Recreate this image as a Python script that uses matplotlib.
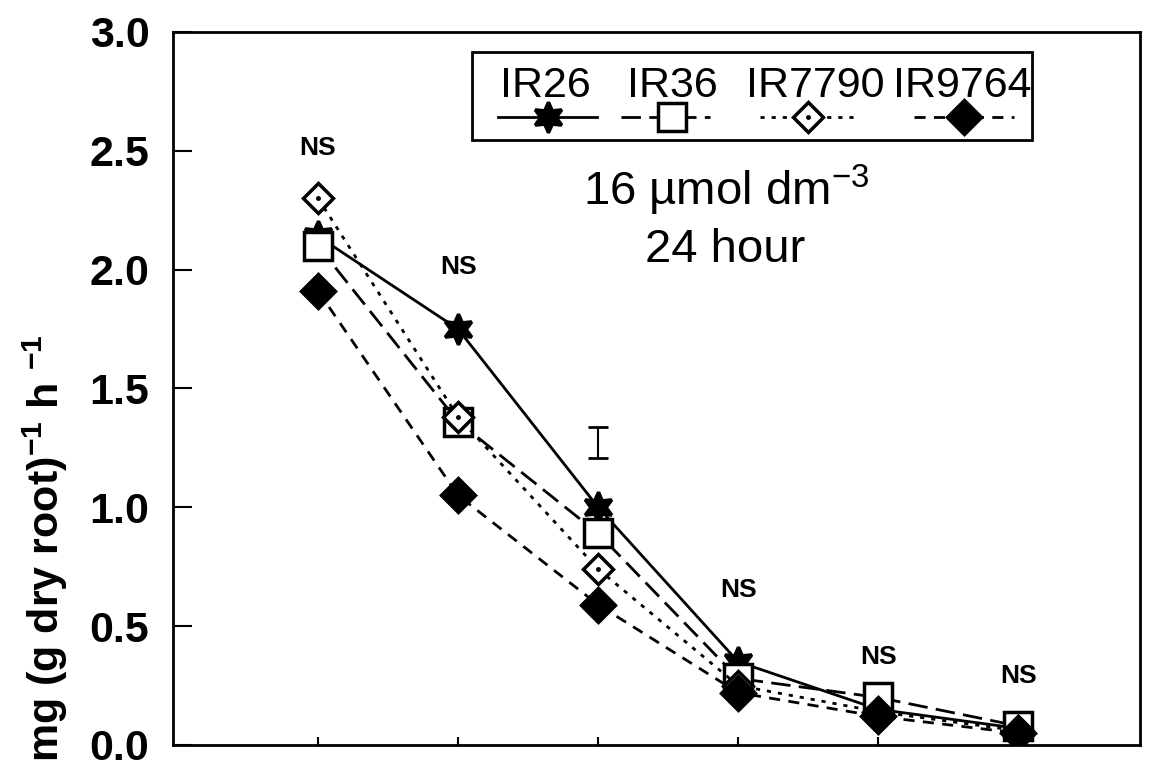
import numpy as np
import matplotlib
matplotlib.use('Agg')
import matplotlib.pyplot as plt
from matplotlib.patches import Rectangle

plt.rcParams['font.family'] = ['Liberation Sans', 'DejaVu Sans']
plt.rcParams['mathtext.fontset'] = 'custom'
plt.rcParams['mathtext.rm'] = 'Liberation Sans'
plt.rcParams['mathtext.it'] = 'Liberation Sans:italic'
plt.rcParams['mathtext.bf'] = 'Liberation Sans:bold'

# sampling points (six harvests) and uptake rates per cultivar
samples = [1, 2, 3, 4, 5, 6]
ir26 = [2.14, 1.75, 1.00, 0.35, 0.15, 0.07]
ir36 = [2.10, 1.36, 0.89, 0.28, 0.20, 0.08]
ir7790 = [2.30, 1.38, 0.74, 0.25, 0.14, 0.06]
ir9764 = [1.91, 1.05, 0.59, 0.22, 0.12, 0.05]

# LSD bar at the third sample and significance notes
lsd_x = 3
lsd_y = 1.273
lsd_half = 0.065
ns_x = [1, 2, 4, 5, 6]
ns_y = [2.51, 2.01, 0.65, 0.37, 0.29]

series = [
    ('IR26', ir26, dict(ls='-', marker=(6, 1, 0), ms=22, mfc='black')),
    ('IR36', ir36, dict(ls=(0, (7, 3)), marker='s', ms=20, mfc='white')),
    ('IR7790', ir7790, dict(ls=(0, (1.5, 2.5)), marker='D', ms=15, mfc='white')),
    ('IR9764', ir9764, dict(ls=(0, (4, 3)), marker='D', ms=17, mfc='black')),
]

fig = plt.figure(figsize=(11.5, 7.7), dpi=100)
ax = fig.add_axes([0.1504, 0.0325, 0.841, 0.926])

for name, vals, st in series:
    ax.plot(samples, vals, color='black', lw=2, mec='black', mew=2.5,
            zorder=3, **st)
# centre dot of the open diamonds
ax.plot(samples, ir7790, ls='none', marker='.', ms=5, color='black', zorder=4)

ax.errorbar([lsd_x], [lsd_y], yerr=[lsd_half], fmt='none', ecolor='black',
            elinewidth=1.5, capsize=7, capthick=2)
for x, y in zip(ns_x, ns_y):
    ax.text(x, y, 'NS', ha='center', va='center', fontsize=19, fontweight='bold')

ax.text(0.5719, 0.7574, '16 µmol dm$^{-3}$', transform=ax.transAxes,
        ha='center', va='baseline', fontsize=34)
ax.text(0.5708, 0.6774, '24 hour', transform=ax.transAxes,
        ha='center', va='baseline', fontsize=34)

# legend drawn as a boxed row: name above each line sample
ax.add_patch(Rectangle((0.3092, 0.8485), 0.5791, 0.1234, transform=ax.transAxes,
                       fill=False, lw=2, ec='black', zorder=5))
leg_text_x = [0.3847, 0.5160, 0.6639, 0.8159]
leg_line = [(0.3361, 0.4385), (0.4633, 0.5553), (0.607, 0.7104), (0.7663, 0.8697)]
leg_mark_x = [0.3878, 0.516, 0.6567, 0.818]
leg_y = 0.8808
for (name, vals, st), tx, (l0, l1), mx in zip(series, leg_text_x, leg_line, leg_mark_x):
    ax.text(tx, 0.9243, name, transform=ax.transAxes, ha='center', va='center',
            fontsize=31, zorder=6)
    ax.plot([l0, l1], [leg_y, leg_y], transform=ax.transAxes, color='black',
            lw=2, ls=st['ls'], zorder=6, clip_on=False)
    ax.plot([mx], [leg_y], transform=ax.transAxes, color='black', ls='none',
            marker=st['marker'], ms=st['ms'], mfc=st['mfc'], mec='black',
            mew=2.5, zorder=7, clip_on=False)
ax.plot([leg_mark_x[2]], [leg_y], transform=ax.transAxes, ls='none', marker='.',
        ms=5, color='black', zorder=8)

ax.set_xlim(-0.036, 6.87)
ax.set_ylim(0, 3.0)
ax.set_xticks(samples)
ax.set_xticklabels([])
yt = np.arange(0, 3.01, 0.5)
ax.set_yticks(yt)
ax.set_yticklabels(['%.1f' % v for v in yt], fontsize=31, fontweight='bold')
ax.tick_params(direction='in', length=14, width=1.5, pad=17)
ax.tick_params(axis='x', length=6)
for s in ax.spines.values():
    s.set_linewidth(2)

ax.set_ylabel(r'mg (g dry root)$^{\mathbf{-1}}$ h $^{\mathbf{-1}}$',
              fontsize=31, fontweight='bold')
ax.yaxis.set_label_coords(-0.106, 0.276)

fig.savefig('out.png', dpi=100)
